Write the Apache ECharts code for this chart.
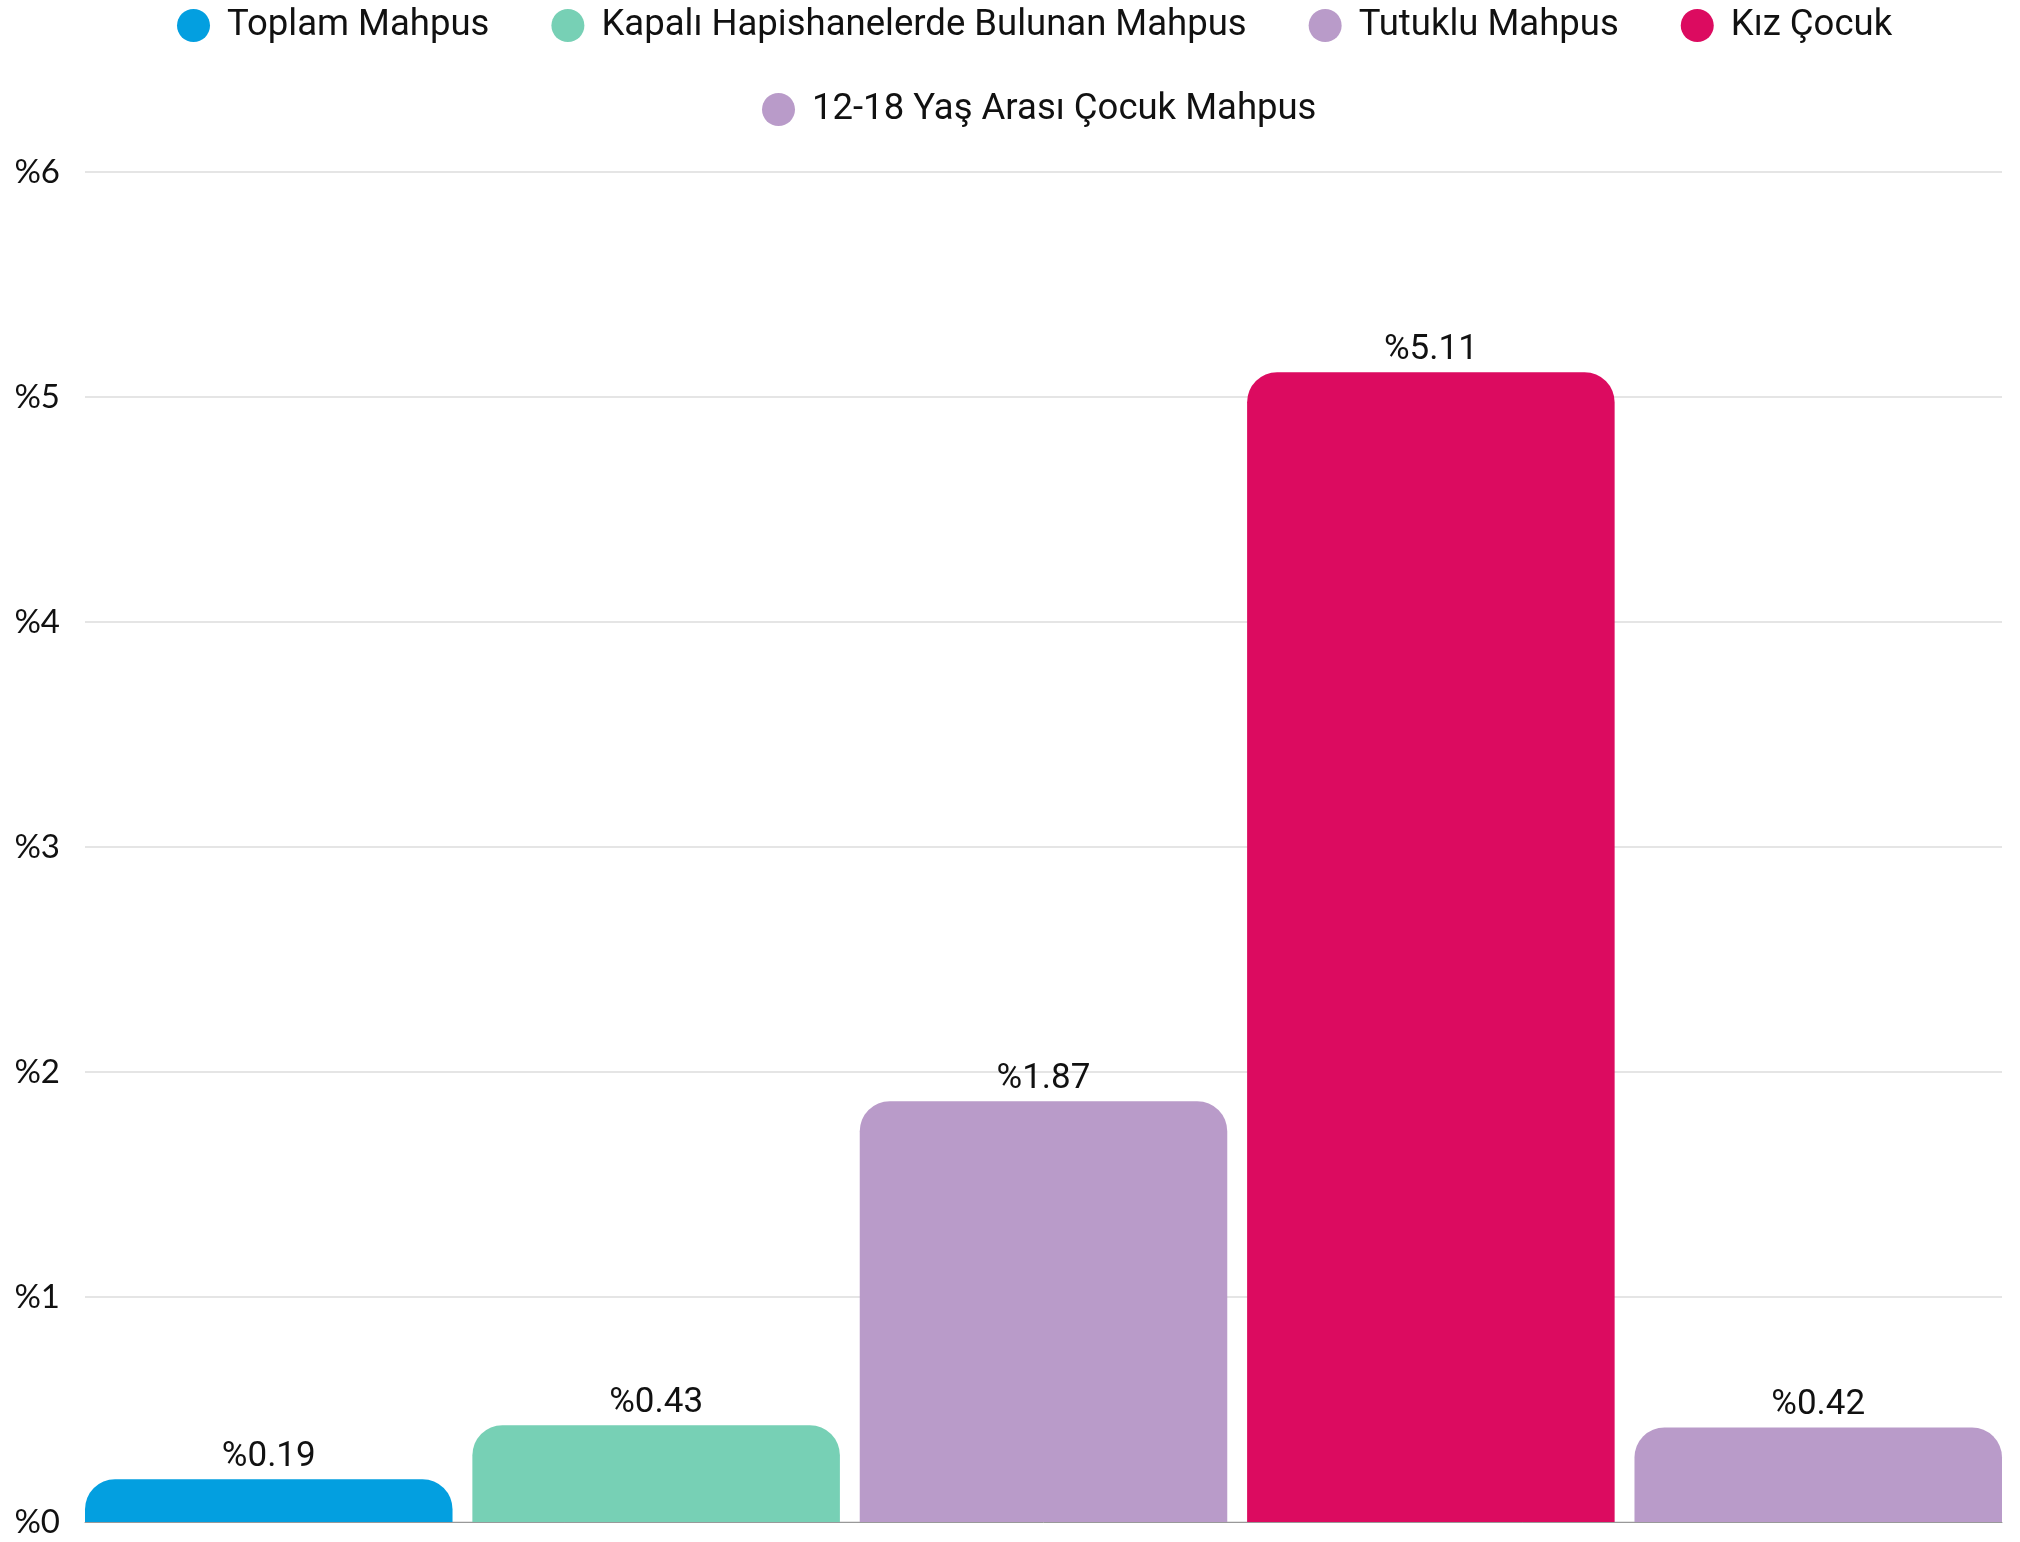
<!DOCTYPE html>
<html><head><meta charset="utf-8">
<script src="https://cdn.jsdelivr.net/npm/echarts@6/dist/echarts.min.js"></script>
<style>html,body{margin:0;padding:0;background:#fff}#c{width:2020px;height:1542px}</style>
</head><body><div id="c"></div>
<script>
const seriesNames = ['Toplam Mahpus','Kapalı Hapishanelerde Bulunan Mahpus','Tutuklu Mahpus','Kız Çocuk','12-18 Yaş Arası Çocuk Mahpus'];
const seriesValues = [0.19, 0.43, 1.87, 5.11, 0.42];
const seriesColors = ['#039FE0','#77D0B5','#B99BC9','#DC0B60','#B99BC9'];
const categories = [''];
const yTicks = [0,1,2,3,4,5,6];

const chart = echarts.init(document.getElementById('c'));
const legendCommon = {
  orient:'horizontal', icon:'circle', itemWidth:33, itemHeight:33, itemGap:62,
  textStyle:{fontFamily:'Roboto', fontSize:36.5, color:'#111', padding:[0,0,0,12]}
};
chart.setOption({
  animation:false,
  backgroundColor:'#fff',
  legend:[
    Object.assign({}, legendCommon, {data:seriesNames.slice(0,4), left:172, top:2}),
    Object.assign({}, legendCommon, {data:seriesNames.slice(4), left:757, top:86})
  ],
  grid:{left:85, right:18, top:172, bottom:20, containLabel:false},
  xAxis:{type:'category', data:categories, axisTick:{show:false}, axisLabel:{show:false},
    axisLine:{show:true, lineStyle:{color:'#999', width:1}}},
  yAxis:{type:'value', min:0, max:6, interval:1,
    axisLabel:{formatter:v=>'%'+v, fontFamily:'Lato', fontSize:33, color:'#111', margin:25},
    splitLine:{lineStyle:{color:'#dcdcdc', width:1.5}},
    axisLine:{show:false}, axisTick:{show:false}},
  series: seriesNames.map((n,i)=>({
    name:n, type:'bar', barGap:'5.4%', barCategoryGap:'0%',
    data:[seriesValues[i]],
    itemStyle:{color:seriesColors[i], borderRadius:[30,30,0,0]},
    label:{show:true, position:'top', distance:5, formatter:p=>'%'+p.value,
      fontFamily:'Roboto', fontSize:35, color:'#111'}
  }))
});
</script></body></html>
